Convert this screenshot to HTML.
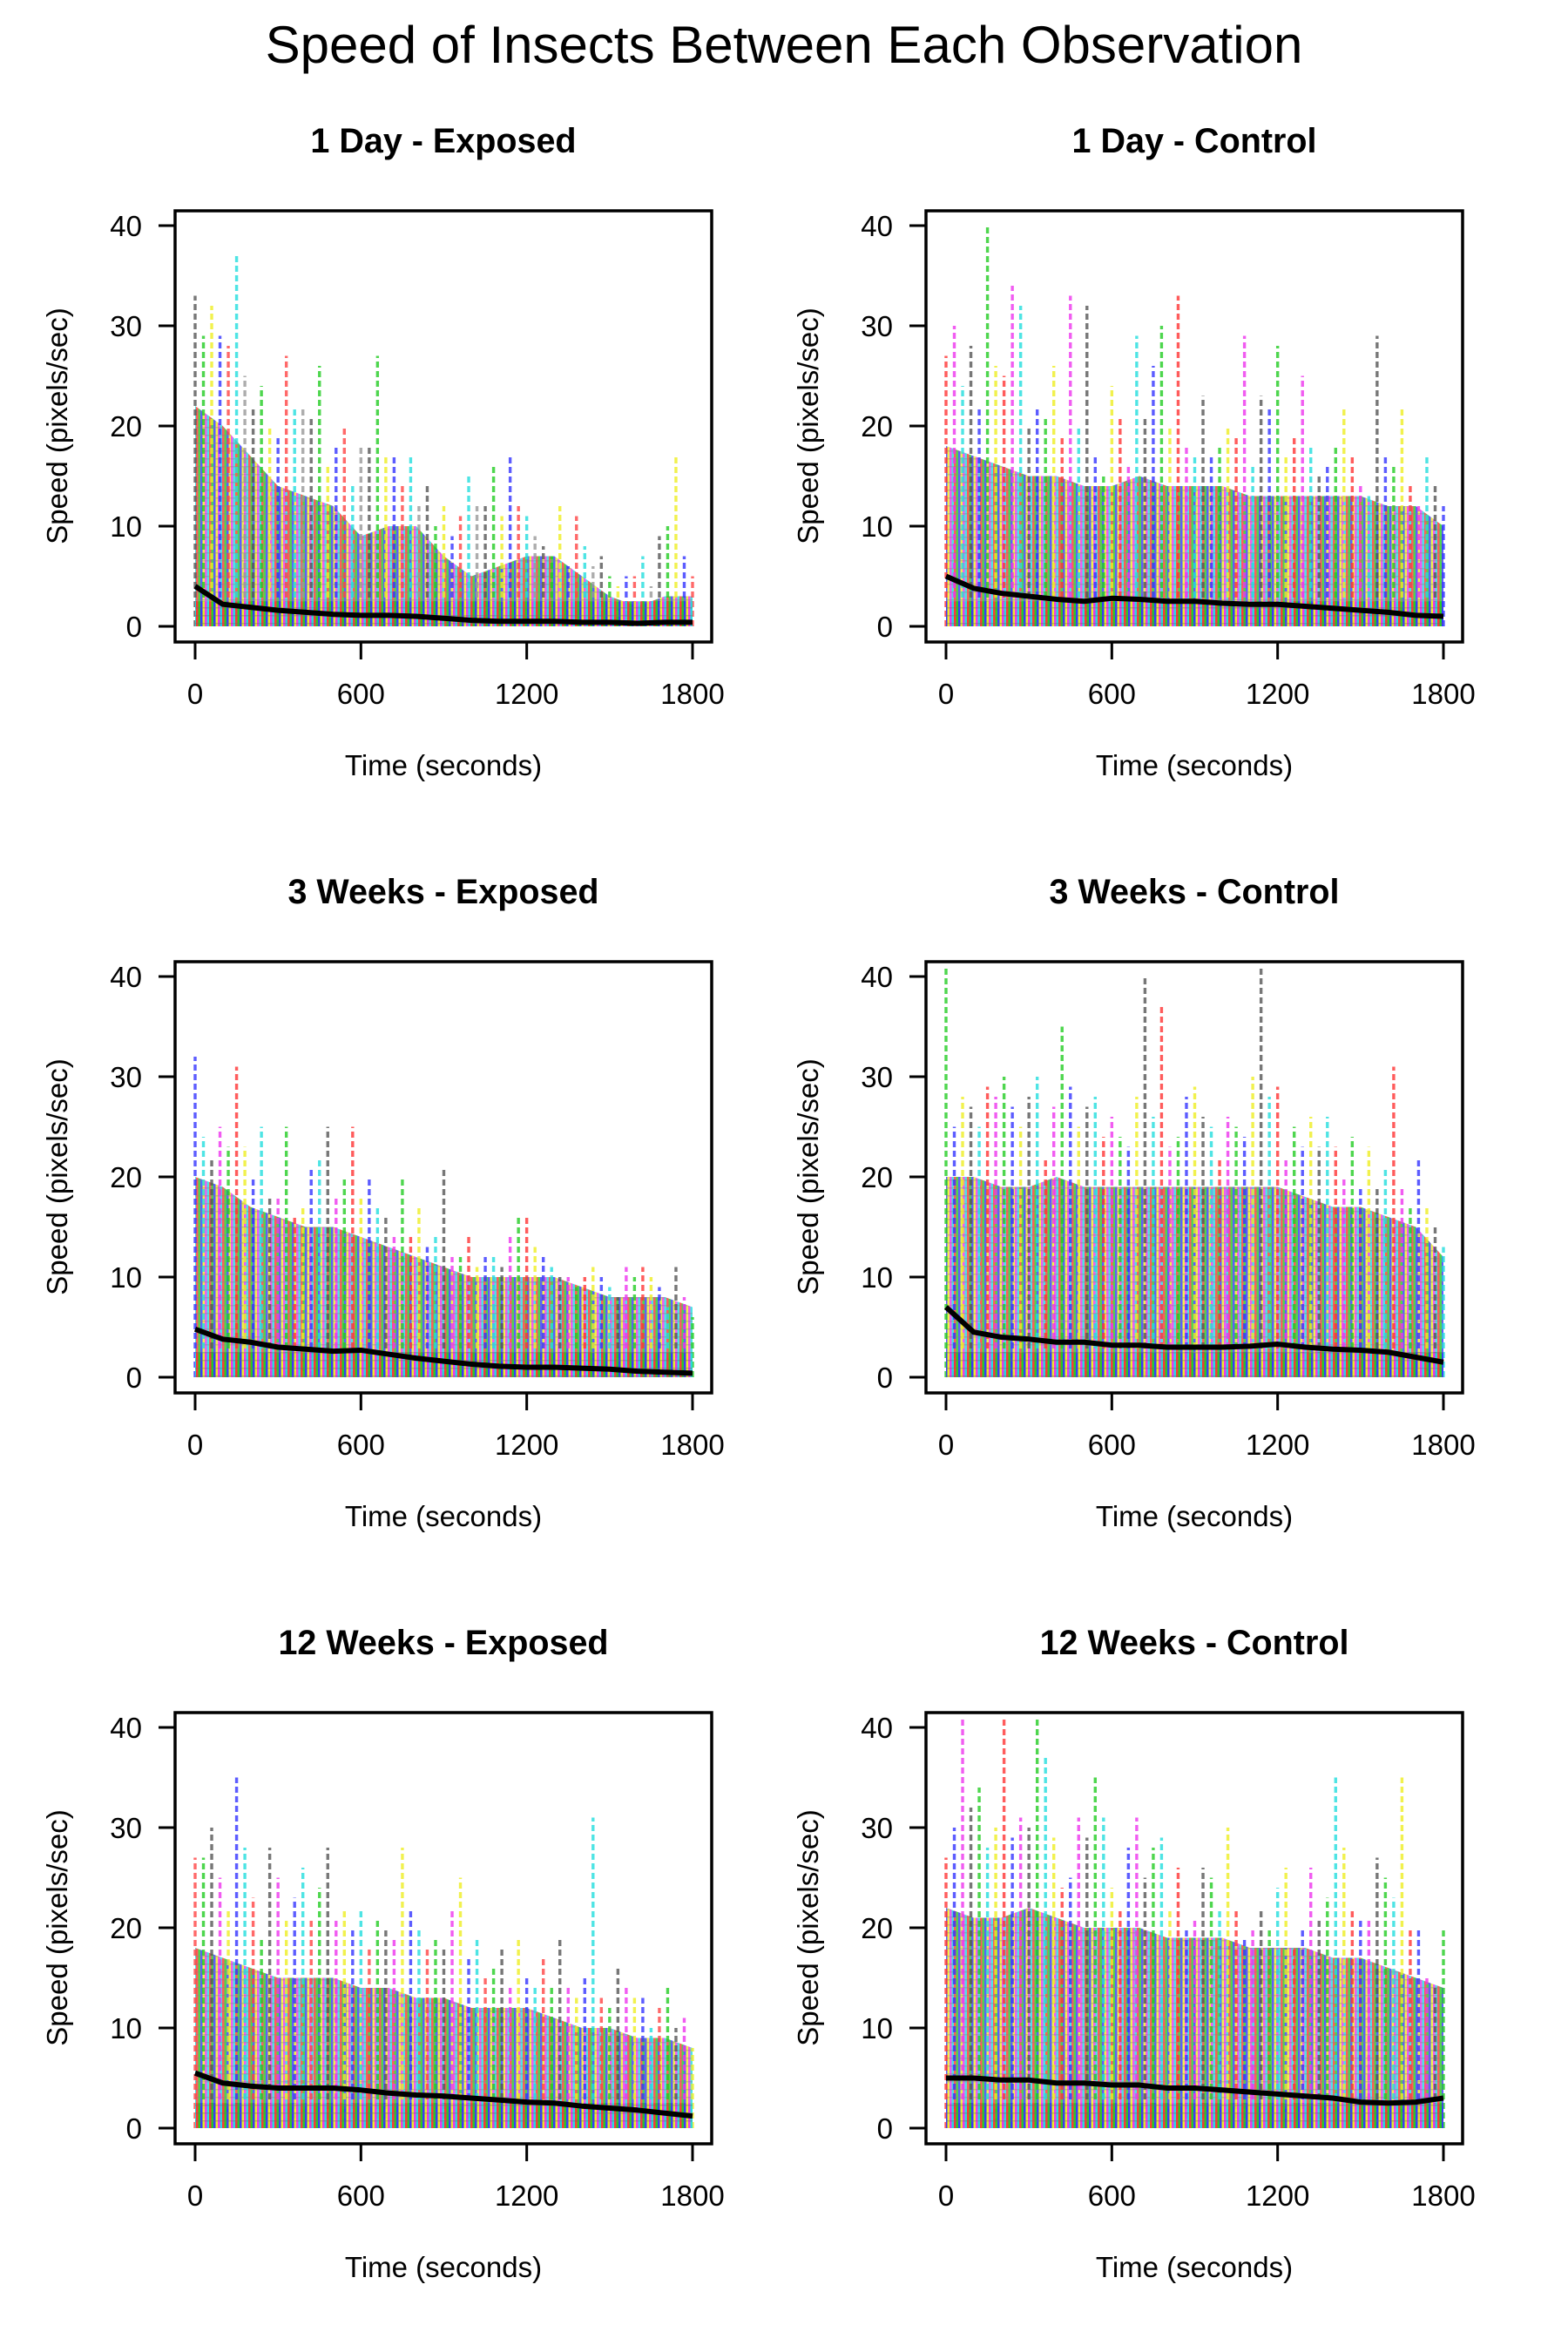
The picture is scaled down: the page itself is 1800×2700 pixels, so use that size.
<!DOCTYPE html>
<html><head><meta charset="utf-8"><style>
html,body{margin:0;padding:0;background:#fff;}
svg{display:block;font-family:"Liberation Sans",Arial,sans-serif;}
</style></head><body>
<svg id="chart" width="1800" height="2700" viewBox="0 0 1800 2700" xmlns="http://www.w3.org/2000/svg">
<defs>
<pattern id="stripA" width="15" height="9" patternUnits="userSpaceOnUse">
<rect x="0" y="0" width="2.6" height="9" fill="#f33"/><rect x="2.5" y="0" width="2.6" height="9" fill="#2c2"/><rect x="5" y="0" width="2.6" height="9" fill="#33f"/><rect x="7.5" y="0" width="2.6" height="9" fill="#ee2"/><rect x="10" y="0" width="2.6" height="9" fill="#e3e"/><rect x="12.5" y="0" width="2.5" height="9" fill="#2dd"/>
<rect x="0" y="4" width="15" height="1.5" fill="#666" opacity="0.4"/>
</pattern>
</defs>
<text x="900" y="72" text-anchor="middle" font-size="60">Speed of Insects Between Each Observation</text>
</svg>
<script>
// ---- data (seconds step 30 for peaks, 100 for band/mean) ----
const panelTitles = ["1 Day - Exposed","1 Day - Control","3 Weeks - Exposed","3 Weeks - Control","12 Weeks - Exposed","12 Weeks - Control"];
const xTicks = [0,600,1200,1800];
const yTicks = [0,10,20,30,40];
const peaksA = [33,29,32,29,28,37,25,22,24,20,19,27,22,22,21,26,16,18,20,14,18,18,27,17,17,14,17,12,14,10,12,9,11,15,12,12,16,11,17,12,11,9,8,7,12,6,11,8,6,7,5,4,5,5,7,4,9,10,17,7,5];
const bandA = [22,20,17,14,13,12,9,10,10,7,5,6,7,7,5,3,2,3,3];
const meanA = [4,2.2,1.9,1.6,1.4,1.2,1.1,1.1,1,0.8,0.6,0.5,0.5,0.5,0.4,0.4,0.3,0.4,0.4];
const peaksB = [27,30,24,28,22,40,26,25,34,32,20,22,21,26,19,33,20,32,17,15,24,21,16,29,21,26,30,20,33,18,17,23,17,18,20,19,29,16,23,22,28,17,19,25,18,15,16,18,22,17,14,13,29,17,16,22,14,12,17,14,12];
const bandB = [18,17,16,15,15,14,14,15,14,14,14,13,13,13,13,13,12,12,10];
const meanB = [5,3.8,3.3,3,2.7,2.5,2.8,2.7,2.5,2.5,2.3,2.2,2.2,2,1.8,1.6,1.4,1.1,1];
const peaksC = [32,24,22,25,23,31,23,20,25,18,18,25,16,17,21,22,25,18,20,25,18,20,17,16,14,20,14,17,13,14,21,12,12,14,11,12,12,11,14,16,16,13,12,11,10,10,9,10,11,10,9,8,11,10,11,10,9,7,11,8,6];
const bandC = [20,19,17,16,15,15,14,13,12,11,10,10,10,10,9,8,8,8,7];
const meanC = [4.8,3.8,3.5,3,2.8,2.6,2.7,2.3,1.9,1.6,1.3,1.1,1,1,0.9,0.8,0.6,0.5,0.4];
const peaksD = [41,25,28,27,25,29,28,30,27,25,28,30,22,27,35,29,25,27,28,24,26,24,23,28,40,26,37,23,24,28,29,26,25,22,26,25,24,30,41,28,29,22,25,23,26,23,26,23,20,24,19,23,19,21,31,19,17,22,17,15,13];
const bandD = [20,20,19,19,20,19,19,19,19,19,19,19,19,18,17,17,16,15,12];
const meanD = [7,4.5,4,3.8,3.5,3.5,3.2,3.2,3,3,3,3.1,3.3,3,2.8,2.7,2.5,2,1.5];
const peaksE = [27,27,30,25,22,35,28,23,19,28,25,21,23,26,21,24,28,21,22,20,22,18,21,20,19,28,22,20,18,19,18,22,25,17,19,15,16,18,14,19,15,14,17,14,19,14,13,15,31,13,12,16,14,13,13,10,12,14,10,11,8];
const bandE = [18,17,16,15,15,15,14,14,13,13,12,12,12,11,10,10,9,9,8];
const meanE = [5.5,4.5,4.2,4,4,4,3.8,3.5,3.3,3.2,3,2.8,2.6,2.5,2.2,2,1.8,1.5,1.2];
const peaksF = [27,30,41,32,34,28,30,41,29,31,30,41,37,29,24,25,31,29,35,31,24,22,28,31,25,28,29,22,26,20,21,26,25,22,30,22,19,20,22,20,24,26,18,20,26,21,23,35,28,22,21,21,27,25,23,35,20,20,15,14,20];
const bandF = [22,21,21,22,21,20,20,20,19,19,19,18,18,18,17,17,16,15,14];
const meanF = [5,5,4.8,4.8,4.5,4.5,4.3,4.3,4,4,3.8,3.6,3.4,3.2,3,2.6,2.5,2.6,3];

const allPeaks=[peaksA,peaksB,peaksC,peaksD,peaksE,peaksF];
const allBands=[bandA,bandB,bandC,bandD,bandE,bandF];
const allMeans=[meanA,meanB,meanC,meanD,meanE,meanF];
const palettes=[
 ["#555","#2c2","#ee2","#33f","#f44","#2dd","#999"],
 ["#f33","#e3e","#2dd","#555","#33f","#2c2","#ee2"],
 ["#33f","#2dd","#555","#e3e","#2c2","#f33","#ee2"],
 ["#2c2","#33f","#ee2","#555","#2dd","#f33","#e3e"],
 ["#f44","#2c2","#555","#e3e","#ee2","#33f","#2dd"],
 ["#f33","#33f","#e3e","#555","#2c2","#2dd","#ee2"]];

const NS="http://www.w3.org/2000/svg";
const svg=document.getElementById('chart');
function mk(tag,attrs,parent){const e=document.createElementNS(NS,tag);for(const k in attrs)e.setAttribute(k,attrs[k]);(parent||svg).appendChild(e);return e;}

for(let p=0;p<6;p++){
  const col=p%2,row=Math.floor(p/2);
  const ox=col*862, oy=row*862;
  const bx0=201+ox,bx1=817+ox,by0=242+oy,by1=737+oy;
  const xs=t=>224+ox+(t/1800)*(795-224);
  const ys=v=>719+oy-(v/40)*(719-259);
  const g=mk('g',{});
  
  
  const t=mk('text',{x:(bx0+bx1)/2,y:175+oy,'text-anchor':'middle','font-size':39.5,'font-weight':'bold'},g);
  t.textContent=panelTitles[p];
  
  
  const band=allBands[p];
  let pts=[xs(0)+','+ys(0)];
  band.forEach((v,i)=>{pts.push(xs(i*100)+','+ys(v));});
  pts.push(xs(1800)+','+ys(0));
  const poly=mk('polygon',{points:pts.join(' '),fill:'url(#stripA)','fill-opacity':0.8},g);
  
  
  const pal=palettes[p];
  allPeaks[p].forEach((v,i)=>{
    const x=xs(i*30);
    const l=mk('line',{x1:x,x2:x,y1:ys(0),y2:ys(v),stroke:pal[i%pal.length],'stroke-width':3.4,'stroke-dasharray':'7 4','stroke-opacity':0.8},g);
    
    
  });
  const strip=mk('rect',{x:xs(0),y:ys(2.5),width:xs(1800)-xs(0),height:ys(0)-ys(2.5),fill:'url(#stripA)','fill-opacity':0.9},g);
  
  
  const mp=allMeans[p].map((v,i)=>xs(i*100)+','+ys(v)).join(' ');
  const ml=mk('polyline',{points:mp,fill:'none',stroke:'#000','stroke-width':6,'stroke-linejoin':'round'},g);
  
  
  const box=mk('rect',{x:bx0,y:by0,width:bx1-bx0,height:by1-by0,fill:'none',stroke:'#000','stroke-width':3.5},g);
  
  
  yTicks.forEach(v=>{
    const tk=mk('line',{x1:182+ox,x2:bx0,y1:ys(v),y2:ys(v),stroke:'#000','stroke-width':3},g);
    
    
    const tl=mk('text',{x:163+ox,y:ys(v)+12,'text-anchor':'end','font-size':33},g);
    tl.textContent=v;
    
    
  });
  xTicks.forEach(v=>{
    const tk=mk('line',{x1:xs(v),x2:xs(v),y1:by1,y2:757+oy,stroke:'#000','stroke-width':3},g);
    
    
    const tl=mk('text',{x:xs(v),y:808+oy,'text-anchor':'middle','font-size':33},g);
    tl.textContent=v;
    
    
  });
  const xl=mk('text',{x:(bx0+bx1)/2,y:890+oy,'text-anchor':'middle','font-size':33},g);
  xl.textContent='Time (seconds)';
  
  
  const yl=mk('text',{x:0,y:0,'text-anchor':'middle','font-size':33,transform:'translate('+(77+ox)+','+(489+oy)+') rotate(-90)'},g);
  yl.textContent='Speed (pixels/sec)';
  
  
}
</script>
</body></html>
